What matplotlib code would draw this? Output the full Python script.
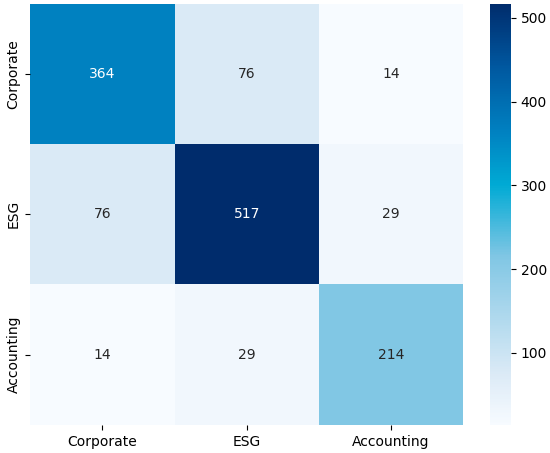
import numpy as np
import matplotlib
matplotlib.use("Agg")
import matplotlib.pyplot as plt
import seaborn as sns
from matplotlib.colors import LinearSegmentedColormap

labels = ["Corporate", "ESG", "Accounting"]
counts = [
    [364, 76, 14],
    [76, 517, 29],
    [14, 29, 214],
]

cmap = LinearSegmentedColormap.from_list(
    "conf",
    [
        (0.0, "#f7fbff"),
        (0.12, "#dbeaf6"),
        (0.40, "#80c6e4"),
        (0.57, "#00aad4"),
        (0.70, "#0080c0"),
        (0.85, "#0058a0"),
        (1.0, "#002c6c"),
    ],
)

fig = plt.figure(figsize=(5.5, 4.53), dpi=100)
ax = fig.add_axes([0.055, 0.062, 0.787, 0.93])
cax = fig.add_axes([0.891, 0.062, 0.038, 0.93])
sns.heatmap(np.array(counts), annot=True, fmt="d", cmap=cmap,
            xticklabels=labels, yticklabels=labels, ax=ax, cbar_ax=cax)
ax.tick_params(labelsize=10)
cax.tick_params(labelsize=10)
fig.savefig("out.png", dpi=100)
